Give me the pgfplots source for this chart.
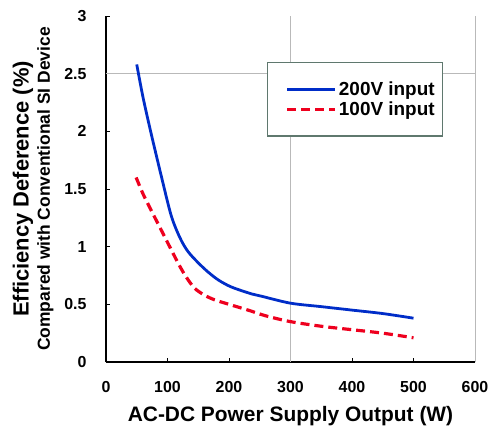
\documentclass[border=0pt]{standalone}
\usepackage{fontspec}
\setmainfont{Liberation Sans}
\usepackage{pgfplots}
\pgfplotsset{compat=1.18}

\definecolor{curveblue}{RGB}{0,45,200}
\definecolor{curvered}{RGB}{238,0,30}
\definecolor{boxgray}{RGB}{95,120,110}

\begin{document}
\begin{tikzpicture}
\begin{axis}[
  scale only axis, width=369bp, height=346bp,
  xmin=0, xmax=600, ymin=0, ymax=3,
  xtick={0,100,...,600}, ytick={0,0.5,...,3},
  xticklabel={\textbf{\pgfmathprintnumber[assume math mode=true]{\tick}}},
  yticklabel={\textbf{\pgfmathprintnumber[assume math mode=true]{\tick}}},
  axis x line=bottom, axis y line=left,
  axis line style={-, black, line width=1.6pt},
  tick style={black, line width=0.6pt}, major tick length=4bp,
  tick align=inside,
  extra x ticks={300,600}, extra x tick labels={},
  extra y ticks={2.5}, extra y tick labels={},
  extra tick style={grid=major, major grid style={gray!55, line width=0.6pt}, major tick length=0pt},
  tick label style={font=\fontsize{16}{18}\selectfont\bfseries},
  xticklabel style={yshift=-16bp},
  yticklabel style={xshift=-16bp},
  xlabel={AC-DC Power Supply Output (W)},
  xlabel style={font=\fontsize{21}{24}\selectfont\bfseries, yshift=-7bp},
  ylabel={{\fontsize{22}{24}\selectfont Efficiency Deference (\%)}\\[3bp]{\fontsize{17.5}{20}\selectfont Compared with Conventional SI Device}},
  ylabel style={align=center, font=\bfseries, yshift=4bp},
  legend style={at={(0.914,0.867)}, anchor=north east, draw=boxgray, line width=1.2pt,
    fill=white, font=\fontsize{19}{22}\selectfont\bfseries, inner xsep=6bp, inner ysep=17bp,
    row sep=1bp},
  legend cell align=left,
  legend image code/.code={\path (-12bp,0bp); \draw[#1] (0bp,0bp) -- (48bp,0bp);},
]
\addplot[curveblue, line width=2.8pt, smooth, tension=0.5] coordinates {
 (50,2.58) (60,2.30) (73,1.99) (90,1.61) (106,1.27) (120,1.08) (133,0.96)
 (150,0.86) (166,0.78) (183,0.71) (204,0.65) (237,0.59) (253,0.57)
 (300,0.51) (350,0.48) (400,0.45) (450,0.42) (500,0.38)};
\addlegendentry{200V input}
\addplot[curvered, line width=3.2pt, dash pattern=on 9bp off 5bp, smooth, tension=0.5] coordinates {
 (49,1.60) (60,1.46) (73,1.32) (95,1.09) (117,0.86) (130,0.74) (144,0.64)
 (160,0.58) (176,0.54) (200,0.50) (231,0.45) (260,0.40) (300,0.35)
 (350,0.31) (400,0.28) (450,0.25) (500,0.21)};
\addlegendentry{100V input}
\end{axis}
\path (current axis.south west) ++(-106bp,-69bp) rectangle ++(492bp,431bp);
\end{tikzpicture}
\end{document}
